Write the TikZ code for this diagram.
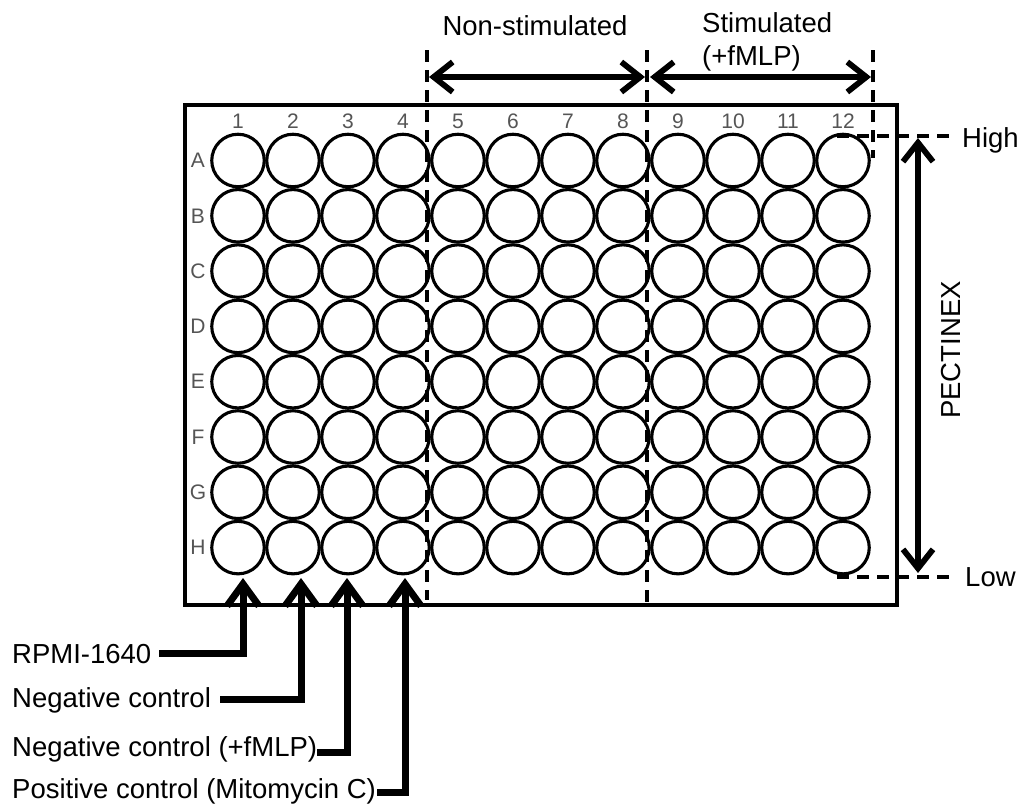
\documentclass[tikz,border=0pt]{standalone}
\usepackage{fontspec}
\setmainfont{Liberation Sans}
\usetikzlibrary{arrows.meta}
\definecolor{numgray}{RGB}{85,85,85}
\begin{document}
\begin{tikzpicture}[x=1pt,y=-1pt,line join=miter,
  well/.style={circle,draw,line width=3.1pt,minimum size=52.5pt,inner sep=0pt},
  plate/.style={draw,line width=3.1pt,minimum width=712pt,minimum height=500pt,inner sep=0pt},
  collab/.style={text=numgray,font=\fontsize{21}{24}\selectfont,inner sep=0pt},
  lbl/.style={font=\fontsize{27.5}{33}\selectfont,inner sep=0pt},
  dline/.style={line width=3.2pt,dash pattern=on 12pt off 8pt},
  dblarrow/.style={line width=5.8pt,{Straight Barb[length=19pt,width=30pt]}-{Straight Barb[length=19pt,width=30pt]}},
  ctl/.style={line width=7pt,-{Straight Barb[length=22pt,width=32pt]}}
]
\useasboundingbox (0,0) rectangle (1022,803);

% plate
\node[plate] (plate) at (541,355) {};

% column numbers
\foreach \c in {1,...,12}{
  \node[collab] (col\c) at ({238+55*(\c-1)},121) {\c};
}
% wells and row letters
\foreach \r [count=\i from 0] in {A,B,C,D,E,F,G,H}{
  \node[collab] (row\r) at (198,{160.5+55.3*\i}) {\r};
  \foreach \c in {1,...,12}{
    \node[well] (w\r\c) at ({238+55*(\c-1)},{160.5+55.3*\i}) {};
  }
}

% dashed separators
\coordinate (d1t) at (427,50);  \coordinate (d1b) at (427,600);
\coordinate (d2t) at (647,50);  \coordinate (d2b) at (647,604);
\coordinate (d3t) at (873,50);  \coordinate (d3b) at (873,158);
\draw[dline] (d1t) -- (d1b);
\draw[dline] (d2t) -- (d2b);
\draw[dline] (d3t) -- (d3b);

% top labels and arrows
\node[lbl,anchor=base] (nonstim) at (535,35) {Non-stimulated};
\node[lbl,align=left,anchor=north west] (stim) at (702,12) {Stimulated\\(+fMLP)};
\coordinate (n1) at (429,77); \coordinate (n2) at (645,77);
\coordinate (s1) at (650,77); \coordinate (s2) at (871,77);
\draw[dblarrow] (n1) -- (n2);
\draw[dblarrow] (s1) -- (s2);

% PECTINEX gradient
\coordinate (hi1) at (837,136); \coordinate (hi2) at (955,136);
\coordinate (lo1) at (837,577); \coordinate (lo2) at (955,577);
\draw[dline] (hi1) -- (hi2);
\draw[dline] (lo1) -- (lo2);
\node[lbl,anchor=base west] (high) at (962,147) {High};
\node[lbl,anchor=base west] (low) at (965,586) {Low};
\coordinate (pt) at (918,138); \coordinate (pb) at (918,573);
\draw[dblarrow] (pt) -- (pb);
\node[lbl,rotate=90,anchor=base] (pect) at (960,350) {PECTINEX};

% control labels
\node[lbl,anchor=base west] (lab1) at (12,663) {RPMI-1640};
\node[lbl,anchor=base west] (lab2) at (12,707) {Negative control};
\node[lbl,anchor=base west] (lab3) at (12,756) {Negative control (+fMLP)};
\node[lbl,anchor=base west] (lab4) at (12,798) {Positive control (Mitomycin C)};
\coordinate (t1) at (243,578);
\coordinate (t2) at (301,578);
\coordinate (t3) at (347,578);
\coordinate (t4) at (405,578);
\draw[ctl] ([xshift=8pt]lab1.east) -| (t1);
\draw[ctl] ([xshift=9pt]lab2.east) -| (t2);
\draw[ctl] ([yshift=-4pt]lab3.east) -| (t3);
\draw[ctl] ([xshift=1pt,yshift=-2pt]lab4.east) -| (t4);
\end{tikzpicture}
\end{document}
